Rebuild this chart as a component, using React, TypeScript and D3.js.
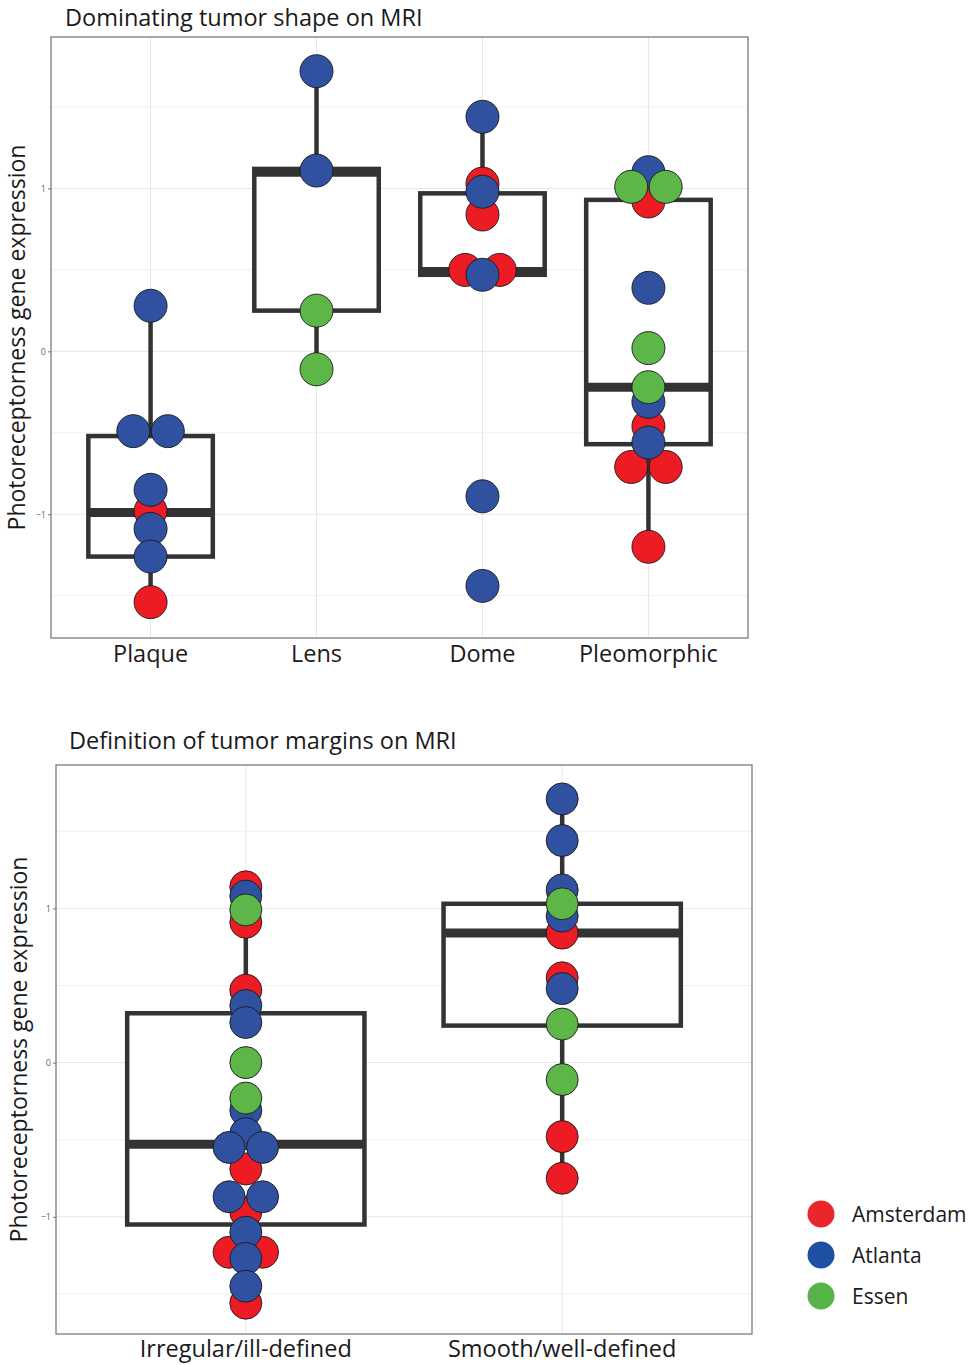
import React, { useEffect, useRef } from "react";
import * as d3 from "d3";

// sites / colours
const sites = ["Amsterdam", "Atlanta", "Essen"];
const siteColors = ["#ED1C24", "#3050A0", "#5CB648"];
const legendColors = ["#E8262B", "#1E4FA1", "#56B447"];

const yDomain = [-1.76, 1.93];
const yTicks = [-1, 0, 1];
const yMinor = [-1.5, -0.5, 0.5, 1.5];

// Panel 1: dominating tumor shape
const shapeCategories = ["Plaque", "Lens", "Dome", "Pleomorphic"];
const shapePoints = [
  { cat: "Plaque", site: "Atlanta", value: 0.28 },
  { cat: "Plaque", site: "Atlanta", value: -0.49 },
  { cat: "Plaque", site: "Atlanta", value: -0.49 },
  { cat: "Plaque", site: "Atlanta", value: -0.85 },
  { cat: "Plaque", site: "Amsterdam", value: -0.98 },
  { cat: "Plaque", site: "Atlanta", value: -1.09 },
  { cat: "Plaque", site: "Atlanta", value: -1.26 },
  { cat: "Plaque", site: "Amsterdam", value: -1.54 },
  { cat: "Lens", site: "Atlanta", value: 1.72 },
  { cat: "Lens", site: "Atlanta", value: 1.11 },
  { cat: "Lens", site: "Essen", value: 0.25 },
  { cat: "Lens", site: "Essen", value: -0.11 },
  { cat: "Dome", site: "Atlanta", value: 1.44 },
  { cat: "Dome", site: "Amsterdam", value: 1.03 },
  { cat: "Dome", site: "Atlanta", value: 0.98 },
  { cat: "Dome", site: "Amsterdam", value: 0.84 },
  { cat: "Dome", site: "Amsterdam", value: 0.5 },
  { cat: "Dome", site: "Amsterdam", value: 0.5 },
  { cat: "Dome", site: "Atlanta", value: 0.47 },
  { cat: "Dome", site: "Atlanta", value: -0.89 },
  { cat: "Dome", site: "Atlanta", value: -1.44 },
  { cat: "Pleomorphic", site: "Atlanta", value: 1.1 },
  { cat: "Pleomorphic", site: "Essen", value: 1.01 },
  { cat: "Pleomorphic", site: "Essen", value: 1.01 },
  { cat: "Pleomorphic", site: "Amsterdam", value: 0.92 },
  { cat: "Pleomorphic", site: "Atlanta", value: 0.39 },
  { cat: "Pleomorphic", site: "Essen", value: 0.02 },
  { cat: "Pleomorphic", site: "Essen", value: -0.22 },
  { cat: "Pleomorphic", site: "Atlanta", value: -0.31 },
  { cat: "Pleomorphic", site: "Amsterdam", value: -0.46 },
  { cat: "Pleomorphic", site: "Atlanta", value: -0.56 },
  { cat: "Pleomorphic", site: "Amsterdam", value: -0.71 },
  { cat: "Pleomorphic", site: "Amsterdam", value: -0.71 },
  { cat: "Pleomorphic", site: "Amsterdam", value: -1.2 },
];
const shapeBoxes = [
  { cat: "Plaque", lo: -1.54, q1: -1.26, med: -0.99, q3: -0.52, hi: 0.28 },
  { cat: "Lens", lo: -0.11, q1: 0.25, med: 1.1, q3: 1.12, hi: 1.72 },
  { cat: "Dome", lo: 0.47, q1: 0.47, med: 0.49, q3: 0.97, hi: 1.44 },
  { cat: "Pleomorphic", lo: -1.2, q1: -0.57, med: -0.22, q3: 0.93, hi: 1.1 },
];

// Panel 2: definition of tumor margins
const marginCategories = ["Irregular/ill-defined", "Smooth/well-defined"];
const marginPoints = [
  { cat: "Irregular/ill-defined", site: "Amsterdam", value: 1.14 },
  { cat: "Irregular/ill-defined", site: "Atlanta", value: 1.08 },
  { cat: "Irregular/ill-defined", site: "Essen", value: 0.99 },
  { cat: "Irregular/ill-defined", site: "Amsterdam", value: 0.91 },
  { cat: "Irregular/ill-defined", site: "Amsterdam", value: 0.47 },
  { cat: "Irregular/ill-defined", site: "Atlanta", value: 0.37 },
  { cat: "Irregular/ill-defined", site: "Atlanta", value: 0.26 },
  { cat: "Irregular/ill-defined", site: "Essen", value: 0.0 },
  { cat: "Irregular/ill-defined", site: "Essen", value: -0.23 },
  { cat: "Irregular/ill-defined", site: "Atlanta", value: -0.31 },
  { cat: "Irregular/ill-defined", site: "Atlanta", value: -0.46 },
  { cat: "Irregular/ill-defined", site: "Atlanta", value: -0.55 },
  { cat: "Irregular/ill-defined", site: "Atlanta", value: -0.55 },
  { cat: "Irregular/ill-defined", site: "Amsterdam", value: -0.69 },
  { cat: "Irregular/ill-defined", site: "Atlanta", value: -0.87 },
  { cat: "Irregular/ill-defined", site: "Atlanta", value: -0.87 },
  { cat: "Irregular/ill-defined", site: "Amsterdam", value: -0.97 },
  { cat: "Irregular/ill-defined", site: "Atlanta", value: -1.1 },
  { cat: "Irregular/ill-defined", site: "Amsterdam", value: -1.23 },
  { cat: "Irregular/ill-defined", site: "Amsterdam", value: -1.23 },
  { cat: "Irregular/ill-defined", site: "Atlanta", value: -1.27 },
  { cat: "Irregular/ill-defined", site: "Atlanta", value: -1.45 },
  { cat: "Irregular/ill-defined", site: "Amsterdam", value: -1.56 },
  { cat: "Smooth/well-defined", site: "Atlanta", value: 1.71 },
  { cat: "Smooth/well-defined", site: "Atlanta", value: 1.44 },
  { cat: "Smooth/well-defined", site: "Atlanta", value: 1.12 },
  { cat: "Smooth/well-defined", site: "Essen", value: 1.03 },
  { cat: "Smooth/well-defined", site: "Atlanta", value: 0.95 },
  { cat: "Smooth/well-defined", site: "Amsterdam", value: 0.84 },
  { cat: "Smooth/well-defined", site: "Amsterdam", value: 0.55 },
  { cat: "Smooth/well-defined", site: "Atlanta", value: 0.48 },
  { cat: "Smooth/well-defined", site: "Essen", value: 0.25 },
  { cat: "Smooth/well-defined", site: "Essen", value: -0.11 },
  { cat: "Smooth/well-defined", site: "Amsterdam", value: -0.48 },
  { cat: "Smooth/well-defined", site: "Amsterdam", value: -0.75 },
];
const marginBoxes = [
  { cat: "Irregular/ill-defined", lo: -1.56, q1: -1.05, med: -0.53, q3: 0.32, hi: 1.14 },
  { cat: "Smooth/well-defined", lo: -0.75, q1: 0.24, med: 0.84, q3: 1.03, hi: 1.71 },
];

const FONT = "'Open Sans', sans-serif";
const BOX = "#333333";

function drawPanel(svg, opts) {
  const { categories, points, boxes, left, top, right, bottom, title, titleX, titleY, r, labelY, yTitleX } = opts;

  const x = d3.scalePoint().domain(categories).range([left, right]).padding(0.6);
  const y = d3.scaleLinear().domain(yDomain).range([bottom, top]);
  const boxW = x.step() * 0.75;

  const g = svg.append("g");

  // panel background + grid
  g.append("rect")
    .attr("x", left).attr("y", top)
    .attr("width", right - left).attr("height", bottom - top)
    .attr("fill", "white");

  g.selectAll("line.minor")
    .data(yMinor)
    .join("line")
    .attr("x1", left).attr("x2", right)
    .attr("y1", (d) => y(d)).attr("y2", (d) => y(d))
    .attr("stroke", "#F0F0F0").attr("stroke-width", 1);

  g.selectAll("line.major")
    .data(yTicks)
    .join("line")
    .attr("x1", left).attr("x2", right)
    .attr("y1", (d) => y(d)).attr("y2", (d) => y(d))
    .attr("stroke", "#E6E6E6").attr("stroke-width", 1);

  g.selectAll("line.vgrid")
    .data(categories)
    .join("line")
    .attr("x1", (d) => x(d)).attr("x2", (d) => x(d))
    .attr("y1", top).attr("y2", bottom)
    .attr("stroke", "#E6E6E6").attr("stroke-width", 1);

  // whiskers
  g.selectAll("line.whisker")
    .data(boxes)
    .join("line")
    .attr("x1", (d) => x(d.cat)).attr("x2", (d) => x(d.cat))
    .attr("y1", (d) => y(d.hi)).attr("y2", (d) => y(d.lo))
    .attr("stroke", BOX).attr("stroke-width", 4.5);

  // boxes
  g.selectAll("rect.box")
    .data(boxes)
    .join("rect")
    .attr("x", (d) => x(d.cat) - boxW / 2)
    .attr("y", (d) => y(d.q3))
    .attr("width", boxW)
    .attr("height", (d) => y(d.q1) - y(d.q3))
    .attr("fill", "white")
    .attr("stroke", BOX).attr("stroke-width", 4.5);

  g.selectAll("line.median")
    .data(boxes)
    .join("line")
    .attr("x1", (d) => x(d.cat) - boxW / 2).attr("x2", (d) => x(d.cat) + boxW / 2)
    .attr("y1", (d) => y(d.med)).attr("y2", (d) => y(d.med))
    .attr("stroke", BOX).attr("stroke-width", 9);

  // dots: equal values are spread side by side, others centered
  const spacing = 2 * r + 1.5;
  const groups = d3.group(points, (d) => d.cat + "|" + d.value);
  const placed = [];
  groups.forEach((arr) => {
    arr.forEach((d, i) => {
      placed.push({ ...d, dx: (i - (arr.length - 1) / 2) * spacing });
    });
  });
  placed.sort((a, b) => sites.indexOf(a.site) - sites.indexOf(b.site));

  g.selectAll("circle.dot")
    .data(placed)
    .join("circle")
    .attr("cx", (d) => x(d.cat) + d.dx)
    .attr("cy", (d) => y(d.value))
    .attr("r", r)
    .attr("fill", (d) => siteColors[sites.indexOf(d.site)])
    .attr("stroke", "#1a1a1a")
    .attr("stroke-width", 0.9);

  // panel border
  g.append("rect")
    .attr("x", left).attr("y", top)
    .attr("width", right - left).attr("height", bottom - top)
    .attr("fill", "none")
    .attr("stroke", "#6E6E6E").attr("stroke-width", 1.2);

  // y axis ticks
  const ax = g.append("g")
    .attr("transform", `translate(${left},0)`)
    .call(d3.axisLeft(y).tickValues(yTicks).tickSize(3).tickPadding(2).tickFormat(d3.format("d")));
  ax.select(".domain").remove();
  ax.selectAll(".tick line").attr("stroke", "#777");
  ax.selectAll(".tick text").attr("fill", "#666").attr("font-size", 9).attr("font-family", FONT);

  // x labels
  g.selectAll("text.xlab")
    .data(categories)
    .join("text")
    .attr("x", (d) => x(d))
    .attr("y", labelY)
    .attr("text-anchor", "middle")
    .attr("font-family", FONT)
    .attr("font-size", 23.5)
    .attr("fill", "#1a1a1a")
    .text((d) => d);

  // title
  g.append("text")
    .attr("x", titleX).attr("y", titleY)
    .attr("font-family", FONT).attr("font-size", 23.5)
    .attr("fill", "#1a1a1a")
    .text(title);

  // y title
  g.append("text")
    .attr("transform", `translate(${yTitleX},${(top + bottom) / 2}) rotate(-90)`)
    .attr("text-anchor", "middle")
    .attr("font-family", FONT).attr("font-size", 23)
    .attr("fill", "#1a1a1a")
    .text("Photoreceptorness gene expression");
}

const App = () => {
  const chartRef = useRef(null);

  useEffect(() => {
    const width = 970;
    const height = 1365;

    d3.select(chartRef.current).selectAll("*").remove();

    const svg = d3
      .select(chartRef.current)
      .append("svg")
      .attr("width", width)
      .attr("height", height)
      .style("position", "absolute")
      .style("left", "0px")
      .style("top", "0px")
      .style("background", "white");

    drawPanel(svg, {
      categories: shapeCategories,
      points: shapePoints,
      boxes: shapeBoxes,
      left: 51, top: 37, right: 748, bottom: 638,
      title: "Dominating tumor shape on MRI",
      titleX: 65, titleY: 26,
      r: 16.5,
      labelY: 662,
      yTitleX: 25,
    });

    drawPanel(svg, {
      categories: marginCategories,
      points: marginPoints,
      boxes: marginBoxes,
      left: 56, top: 765, right: 752, bottom: 1334,
      title: "Definition of tumor margins on MRI",
      titleX: 69, titleY: 749,
      r: 16,
      labelY: 1357,
      yTitleX: 27,
    });

    // legend
    const legend = svg.append("g").attr("transform", "translate(821,1214)");
    legend
      .selectAll("circle")
      .data(sites)
      .join("circle")
      .attr("cx", 0)
      .attr("cy", (d, i) => i * 41)
      .attr("r", 13.5)
      .attr("fill", (d, i) => legendColors[i]);
    legend
      .selectAll("text")
      .data(sites)
      .join("text")
      .attr("x", 31)
      .attr("y", (d, i) => i * 41 + 8)
      .attr("font-family", FONT)
      .attr("font-size", 21)
      .attr("fill", "#1a1a1a")
      .text((d) => d);
  }, []);

  return <div ref={chartRef}></div>;
};

export default App;
